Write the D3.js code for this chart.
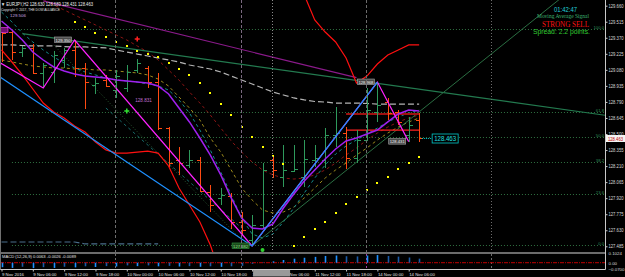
<!DOCTYPE html>
<html><head><meta charset="utf-8">
<script src="https://cdn.jsdelivr.net/npm/d3@7"></script>
<style>html,body{margin:0;padding:0;background:#000;overflow:hidden}svg{display:block}</style>
</head><body><svg id="c" width="625" height="277"></svg>
<script>
// ---------- DATA ----------
const priceTicks = [129.660,129.515,129.370,129.225,129.080,128.935,128.790,128.645,128.500,128.355,128.210,128.065,127.920,127.775,127.630,127.485];
const timeTickIdx = [0,3,6,9,12,15,18,21,24,27,30,33,36,39];
const timeTickLbl = ["9 Nov 2016","9 Nov 06:00","9 Nov 12:00","9 Nov 18:00","10 Nov 00:00","10 Nov 06:00","10 Nov 12:00","10 Nov 18:00","11 Nov 00:00","11 Nov 06:00","11 Nov 12:00","11 Nov 18:00","14 Nov 00:00","14 Nov 06:00"];
const openP  = [129.431,129.422,129.241,129.278,129.052,129.061,129.169,129.260,129.097,128.943,128.988,128.898,128.916,129.079,129.097,128.970,128.554,128.265,128.220,128.265,127.976,127.922,127.940,127.705,127.542,127.678,128.265,128.111,128.166,128.111,128.265,128.265,128.491,128.509,128.283,128.446,128.699,128.789,128.699,128.491,128.630];
const highP  = [129.449,129.440,129.296,129.314,129.142,129.250,129.278,129.350,129.142,129.006,129.034,129.079,129.124,129.178,129.115,129.052,128.563,128.383,128.356,128.292,128.039,128.012,127.967,127.795,127.768,128.238,128.301,128.401,128.401,128.446,128.401,128.554,128.744,128.563,128.536,128.916,128.970,128.826,128.717,128.654,128.689];
const lowP   = [129.151,129.169,129.196,129.043,128.916,128.961,129.097,129.015,128.726,128.862,128.925,128.826,128.880,129.052,128.916,128.536,128.202,128.130,128.193,127.976,127.795,127.858,127.641,127.587,127.488,127.650,128.102,128.021,128.157,128.021,128.202,128.193,128.383,128.184,128.238,128.437,128.609,128.627,128.581,128.431,128.431];
const closeP = [129.413,129.241,129.278,129.052,129.124,129.214,129.260,129.097,128.970,128.961,128.934,129.024,129.061,129.142,128.970,128.554,128.238,128.238,128.265,127.985,127.858,127.949,127.705,127.632,127.678,128.175,128.175,128.175,128.184,128.274,128.283,128.491,128.509,128.283,128.446,128.717,128.762,128.690,128.609,128.581,128.463];
const maRed = [129.260,129.151,129.034,128.907,128.780,128.699,128.645,128.572,128.518,128.428,128.356,128.328,128.328,128.337,128.346,128.328,128.211,128.012,127.858,127.705,127.497,127.225,null,null,null,null,null,null,null,129.757,129.531,129.422,129.332,129.187,128.961,129.024,129.133,129.214,129.260,129.305,129.305];
const maPurple = [129.522,129.440,129.350,129.241,129.169,129.106,129.070,129.043,129.024,129.015,129.006,128.988,128.979,128.970,128.961,128.934,128.862,128.735,128.609,128.464,128.310,128.130,127.922,127.741,127.650,127.641,127.687,127.831,127.958,128.075,128.175,128.274,128.365,128.437,128.464,128.500,128.536,128.609,128.681,128.717,128.708];
const maOlive = [129.169,129.151,129.133,129.115,129.106,129.097,129.097,129.088,129.088,129.079,129.079,129.070,129.061,129.052,129.034,128.997,128.934,128.835,128.735,128.627,128.464,128.337,128.175,128.012,127.904,127.813,127.786,127.795,127.840,127.922,128.012,128.102,128.175,128.238,128.310,128.374,128.446,128.509,128.563,128.609,128.645];
const maTeal = [129.603,129.513,129.413,129.332,129.260,129.196,129.142,129.097,129.061,129.034,129.006,128.988,128.979,128.970,128.952,128.934,128.898,128.808,128.690,128.536,128.356,128.157,127.949,127.741,127.596,127.560,127.596,127.705,127.831,127.967,128.102,128.220,128.319,128.392,128.446,128.500,128.554,128.609,128.654,128.690,128.717];
const maDarkRed = [129.892,129.847,129.802,129.757,129.712,129.666,129.621,129.576,129.531,129.486,129.440,129.395,129.350,129.296,129.241,129.169,129.079,128.988,128.880,128.780,128.672,128.554,128.437,128.337,128.247,128.175,128.130,128.102,128.093,128.102,128.130,128.175,128.238,128.310,128.374,128.446,128.509,128.563,128.609,128.645,128.672];
const maGray = [129.305,129.305,129.300,129.296,129.296,129.296,129.291,129.287,129.287,129.282,129.278,129.260,129.241,129.223,129.205,129.187,129.169,129.151,129.124,129.106,129.088,129.061,129.024,128.988,128.952,128.916,128.880,128.853,128.826,128.808,128.794,128.789,128.780,128.780,128.780,128.776,128.771,128.771,128.771,128.771,128.771];
const maSlate = [127.524,127.524,127.524,127.524,127.524,127.524,127.524,127.524,127.506,127.506,127.506,127.506,127.506,127.506,127.506,127.506];
const sarVal = [null,null,null,null,null,null,null,129.513,129.467,129.413,129.377,129.332,129.296,129.250,129.223,129.196,129.142,129.088,129.034,128.961,128.871,128.771,128.672,128.563,128.473,128.383,128.301,128.229,127.488,127.569,127.641,127.705,127.786,127.867,127.931,127.994,128.057,128.111,128.184,128.238,128.292];
const macdHist = [-0.050,-0.058,-0.045,-0.060,-0.050,-0.058,-0.045,-0.052,-0.040,-0.048,-0.038,-0.042,-0.030,-0.038,-0.030,-0.040,-0.035,-0.042,-0.038,-0.045,-0.040,-0.046,-0.040,-0.035,-0.012,0.005,0.015,0.030,0.045,0.055,0.065,0.075,0.080,0.072,0.070,0.080,0.085,0.075,0.068,0.058,0.045];
const macdTicks = [0.1024,0.0,-0.070];
const zigzagMag = [[-6,129.467],[4,128.916],[7,129.350],[24,127.488],[36,128.970],[39,128.431]];
const zigzagBlue = [[-2,129.133],[24,127.488],[36,128.970]];
const trendGreen = [[2,129.407],[58,128.667]];
const trendPurple = [[4,129.703],[34,129.010]];
const fanGreen = [[24,127.488],[56,129.912]];
const channelTeal = [[10,128.735],[23,127.650]];
const channelDark = [[5,129.305],[23,127.542]];
const fibLevels = [0,23.6,38.2,50,61.8,100];
const fibHigh = 129.449, fibLow = 127.497;
const separators = [10.9,22.9,34.9,46.9];
const crossIdx = 25.9;
const rangeHi = 128.681, rangeLo = 128.536, rangeFrom = 33, rangeTo = 40;
const vertexLabels = [
  {i:7,p:129.350,t:"129.350",k:"g"},{i:36,p:128.970,t:"128.968",k:"g"},
  {i:39,p:128.431,t:"128.431",k:"g"},{i:24,p:127.488,t:"127.482",k:"v"}];
const lastPrice = 128.463;

// ---------- SETUP ----------
const W=625,H=277, PR=605, PB=252;
const svg=d3.select("#c");
svg.append("rect").attr("width",W).attr("height",H).attr("fill","#000");
const x=d3.scaleLinear().domain([0,57.8]).range([1.5,PR]);
const y=d3.scaleLinear().domain([127.4334,129.7115]).range([PB,0]);
const my=d3.scaleLinear().domain([-0.070,0.1024]).range([269,253.5]);
svg.append("clipPath").attr("id","cp").append("rect").attr("x",0).attr("y",0).attr("width",PR).attr("height",PB);
const g=svg.append("g").attr("clip-path","url(#cp)");
const F="Liberation Sans, Arial, sans-serif";

const line=d3.line().defined(d=>d[1]!=null).x(d=>x(d[0])).y(d=>y(d[1]));
const ser=a=>a.map((v,i)=>[i,v]);

// fib levels
fibLevels.forEach(l=>{
  const p=fibLow+(fibHigh-fibLow)*l/100, yy=Math.round(y(p))+0.5;
  g.append("line").attr("x1",x(1)).attr("x2",PR).attr("y1",yy).attr("y2",yy)
    .attr("stroke","#2f7040").attr("stroke-dasharray","1,2");
  g.append("text").attr("x",PR-1).attr("y",yy-1).attr("text-anchor","end")
    .attr("font-family",F).attr("font-size",4.2).attr("fill","#2e8b57").text(d3.format(".1f")(l));
});
// separators
separators.forEach((s,k)=>{
  const xx=Math.round(x(s))+0.5;
  svg.append("line").attr("x1",xx).attr("x2",xx).attr("y1",0).attr("y2",PB)
    .attr("stroke",k==1?"#7a6880":"#6c6c6c").attr("stroke-dasharray",k==3?"1,2":"3,2");
  svg.append("line").attr("x1",xx).attr("x2",xx).attr("y1",254).attr("y2",269)
    .attr("stroke",k==2?"#a040a0":"#6c6c6c").attr("stroke-dasharray","2,2");
});
{const xx=Math.round(x(crossIdx))+0.5;
 svg.append("line").attr("x1",xx).attr("x2",xx).attr("y1",0).attr("y2",PB).attr("stroke","#8a8a8a").attr("stroke-dasharray","1,2");}

// dashed MAs
const dashed=[[maDarkRed,"#8b1414","3,3"],[maOlive,"#9c8a1c","3,3"],[maTeal,"#138c8c","3,3"]];
dashed.forEach(([a,c,d])=>g.append("path").attr("d",line(ser(a))).attr("fill","none").attr("stroke",c).attr("stroke-width",1).attr("stroke-dasharray",d));
g.append("path").attr("d",line(ser(maGray))).attr("fill","none").attr("stroke","#b4b4b4").attr("stroke-width",1.2).attr("stroke-dasharray","6,3");
g.append("path").attr("d",line(ser(maSlate))).attr("fill","none").attr("stroke","#4a6e8c").attr("stroke-width",1.2).attr("stroke-dasharray","6,3");
g.append("path").attr("d",line(channelTeal)).attr("fill","none").attr("stroke","#176a6a").attr("stroke-width",1).attr("stroke-dasharray","3,3");
g.append("path").attr("d",line(channelDark)).attr("fill","none").attr("stroke","#2a5a30").attr("stroke-width",1).attr("stroke-dasharray","1,2");
// straight lines
g.append("path").attr("d",line(trendGreen)).attr("fill","none").attr("stroke","#237a4f").attr("stroke-width",1.2);
g.append("path").attr("d",line(trendPurple)).attr("fill","none").attr("stroke","#8b1a8b").attr("stroke-width",1.2);
g.append("path").attr("d",line(fanGreen)).attr("fill","none").attr("stroke","#2a6e42").attr("stroke-width",1);

// range lines
g.append("line").attr("x1",x(rangeFrom)).attr("x2",x(rangeTo)).attr("y1",y(rangeHi)).attr("y2",y(rangeHi)).attr("stroke","#a01010").attr("stroke-width",2);
g.append("line").attr("x1",x(rangeFrom)).attr("x2",x(rangeTo)).attr("y1",y(rangeLo)).attr("y2",y(rangeLo)).attr("stroke","#ff2020").attr("stroke-width",1.2);

// bars
const bars=g.append("g").attr("shape-rendering","crispEdges");
openP.forEach((o,i)=>{
  const c=closeP[i]>=o?"#2e9a5c":"#ff4a12";
  const xi=Math.round(x(i))+0.5;
  bars.append("line").attr("x1",xi).attr("x2",xi).attr("y1",y(highP[i])).attr("y2",y(lowP[i])).attr("stroke",c);
  bars.append("line").attr("x1",xi-3.5).attr("x2",xi).attr("y1",Math.round(y(o))+0.5).attr("y2",Math.round(y(o))+0.5).attr("stroke",c);
  bars.append("line").attr("x1",xi).attr("x2",xi+3.5).attr("y1",Math.round(y(closeP[i]))+0.5).attr("y2",Math.round(y(closeP[i]))+0.5).attr("stroke",c);
});

// main lines
g.append("path").attr("d",line(ser(maRed))).attr("fill","none").attr("stroke","#ff1010").attr("stroke-width",1.2);
g.append("path").attr("d",line(ser(maPurple))).attr("fill","none").attr("stroke","#a020f0").attr("stroke-width",1.5);
g.append("path").attr("d",line(zigzagMag)).attr("fill","none").attr("stroke","#ff22ff").attr("stroke-width",1.2);
g.append("path").attr("d",line(zigzagBlue)).attr("fill","none").attr("stroke","#1e90ff").attr("stroke-width",1.3);

// SAR
g.selectAll("rect.sar").data(ser(sarVal).filter(d=>d[1]!=null)).join("rect").attr("class","sar")
  .attr("x",d=>Math.round(x(d[0]))-1).attr("y",d=>Math.round(y(d[1]))-1).attr("width",2).attr("height",2).attr("fill","#ffff00");

// signals
const plus=(i,p,c)=>{const cx=x(i),cy=y(p);
  g.append("path").attr("d",`M${cx-2.5},${cy}H${cx+2.5}M${cx},${cy-2.5}V${cy+2.5}`).attr("stroke",c).attr("stroke-width",1.5);};
plus(12,128.708,"#30e030"); plus(13,129.359,"#ff2020");
g.append("circle").attr("cx",x(25)).attr("cy",y(127.452)).attr("r",2).attr("fill","#30d030");

// vertex labels
vertexLabels.forEach(v=>{
  const bx=x(v.i)-20, by=y(v.p)-3;
  g.append("rect").attr("x",bx).attr("y",by).attr("width",17).attr("height",5.5)
    .attr("fill",v.k=="v"?"#1c4a1c":"#4a4a4a").attr("stroke",v.k=="v"?"#2e9a3e":"#a8a8a8").attr("stroke-width",0.6);
  g.append("text").attr("x",bx+1).attr("y",by+4.6).attr("font-family",F).attr("font-size",4.4)
    .attr("textLength",15).attr("lengthAdjust","spacingAndGlyphs").attr("fill",v.k=="v"?"#8fe08f":"#eeeeee").text(v.t);
});
g.append("text").attr("x",x(13)-2).attr("y",y(128.808)+2).attr("font-family",F).attr("font-size",4.6).attr("fill","#c070d0").text("128.831");
g.append("rect").attr("x",0).attr("y",y(129.440)-2.5).attr("width",8).attr("height",5).attr("fill","#701070").attr("stroke","#ff40ff").attr("stroke-width",0.6);

// current price marker
const cy=Math.round(y(lastPrice))+0.5;
g.append("line").attr("x1",x(40)+3).attr("x2",x(40)+13).attr("y1",cy).attr("y2",cy).attr("stroke","#00cccc").attr("stroke-dasharray","1,1");
g.append("rect").attr("x",x(40)+13).attr("y",cy-4.5).attr("width",26).attr("height",9).attr("fill","#000").attr("stroke","#00c8c8").attr("stroke-width",0.8);
g.append("text").attr("x",x(40)+15).attr("y",cy+2.6).attr("font-family",F).attr("font-size",7).attr("textLength",22).attr("lengthAdjust","spacingAndGlyphs").attr("fill","#20e0e0").text(d3.format(".3f")(lastPrice));

// ---------- MACD ----------
svg.append("text").attr("x",2).attr("y",258).attr("font-family",F).attr("font-size",4.4).attr("fill","#e0e0e0")
  .attr("textLength",74).attr("lengthAdjust","spacingAndGlyphs").text("MACD (12,26,9) 0.0063 -0.0026 -0.0089");
svg.append("line").attr("x1",0).attr("x2",PR).attr("y1",my(0)).attr("y2",my(0)).attr("stroke","#c00000").attr("stroke-dasharray","4,1,1,1");
svg.selectAll("line.mh").data(macdHist).join("line").attr("class","mh")
  .attr("x1",(d,i)=>Math.round(x(i))+0.5).attr("x2",(d,i)=>Math.round(x(i))+0.5)
  .attr("y1",my(0)).attr("y2",d=>my(d)).attr("stroke-width",1.6)
  .attr("stroke",(d,i)=>i>0&&Math.abs(d)<Math.abs(macdHist[i-1])?"#1a5aa8":"#1e90ff");

// ---------- FRAME ----------
svg.append("line").attr("x1",0).attr("x2",PR+0.5).attr("y1",253).attr("y2",253).attr("stroke","#d8d8d8").attr("stroke-width",1.2);
svg.append("line").attr("x1",0).attr("x2",PR+0.5).attr("y1",269.5).attr("y2",269.5).attr("stroke","#c8c8c8");
svg.append("line").attr("x1",PR+0.5).attr("x2",PR+0.5).attr("y1",0).attr("y2",269.5).attr("stroke","#c8c8c8");
svg.append("line").attr("x1",0.5).attr("x2",0.5).attr("y1",0).attr("y2",269.5).attr("stroke","#707070");

// axes
const ya=svg.append("g").attr("transform",`translate(${PR+0.5},0)`)
  .call(d3.axisRight(y).tickValues(priceTicks).tickFormat(d3.format(".3f")).tickSize(2).tickPadding(1));
ya.select(".domain").remove();
ya.selectAll("line").attr("stroke","#c8c8c8");
ya.selectAll("text").attr("font-family",F).attr("font-size",4.6).attr("fill","#d8d8d8").attr("textLength",15).attr("lengthAdjust","spacingAndGlyphs");
svg.append("rect").attr("x",PR+1).attr("y",cy-3.5).attr("width",19).attr("height",7).attr("fill","#f4f4f4");
svg.append("text").attr("x",PR+3).attr("y",cy+2).attr("font-family",F).attr("font-size",4.6).attr("fill","#c00000").attr("textLength",15).attr("lengthAdjust","spacingAndGlyphs").text(d3.format(".3f")(lastPrice));
const ma=svg.append("g").attr("transform",`translate(${PR+0.5},0)`)
  .call(d3.axisRight(my).tickValues(macdTicks).tickFormat(d=>d==0?"0.00":d3.format(".4f")(d)).tickSize(0).tickPadding(3));
ma.select(".domain").remove();
ma.selectAll("text").attr("font-family",F).attr("font-size",4.4).attr("fill","#d8d8d8");

const xa=svg.append("g").attr("transform","translate(0,269.5)")
  .call(d3.axisBottom(x).tickValues(timeTickIdx).tickFormat((d,i)=>timeTickLbl[i]).tickSize(2).tickPadding(1));
xa.select(".domain").remove();
xa.selectAll("line").attr("stroke","#c8c8c8");
xa.selectAll("text").attr("text-anchor","start").attr("font-family",F).attr("font-size",4.3).attr("fill","#e0e0e0");
svg.append("rect").attr("x",x(24)+1).attr("y",270).attr("width",37).attr("height",6.5).attr("fill","#9a9a9a");

// ---------- TEXTS ----------
svg.append("text").attr("x",1).attr("y",5.5).attr("font-family",F).attr("font-size",5).attr("fill","#f0f0f0")
  .attr("textLength",92).attr("lengthAdjust","spacingAndGlyphs").text("\u25BC EURJPY,H2  128.630 128.689 128.431 128.463");
svg.append("text").attr("x",1).attr("y",10.5).attr("font-family",F).attr("font-size",4.4).attr("fill","#e0e0e0")
  .attr("textLength",59).attr("lengthAdjust","spacingAndGlyphs").text("Copyright \u00A9 2017, THE DOW ALLIANCE");
svg.append("text").attr("x",10).attr("y",17).attr("font-family",F).attr("font-size",4.4).attr("fill","#c8a8e0").text("129.506");

svg.append("text").attr("x",577).attr("y",12).attr("text-anchor","end").attr("font-family",F).attr("font-size",7).attr("fill","#22d0dc")
  .attr("textLength",23).attr("lengthAdjust","spacingAndGlyphs").text("01:42:47");
svg.append("text").attr("x",589).attr("y",18).attr("text-anchor","end").attr("font-family","Liberation Serif, serif").attr("font-size",5.2).attr("fill","#3cb371")
  .attr("textLength",52).attr("lengthAdjust","spacingAndGlyphs").text("Moving Average Signal");
svg.append("text").attr("x",589).attr("y",26.5).attr("text-anchor","end").attr("font-family","Liberation Serif, serif").attr("font-size",7.2).attr("fill","#ff1010")
  .attr("textLength",47).attr("lengthAdjust","spacingAndGlyphs").text("STRONG SELL");
svg.append("text").attr("x",590).attr("y",34).attr("text-anchor","end").attr("font-family",F).attr("font-size",7.2).attr("fill","#32cd32")
  .attr("textLength",57).attr("lengthAdjust","spacingAndGlyphs").text("Spread: 2.2 points.");
</script></body></html>
